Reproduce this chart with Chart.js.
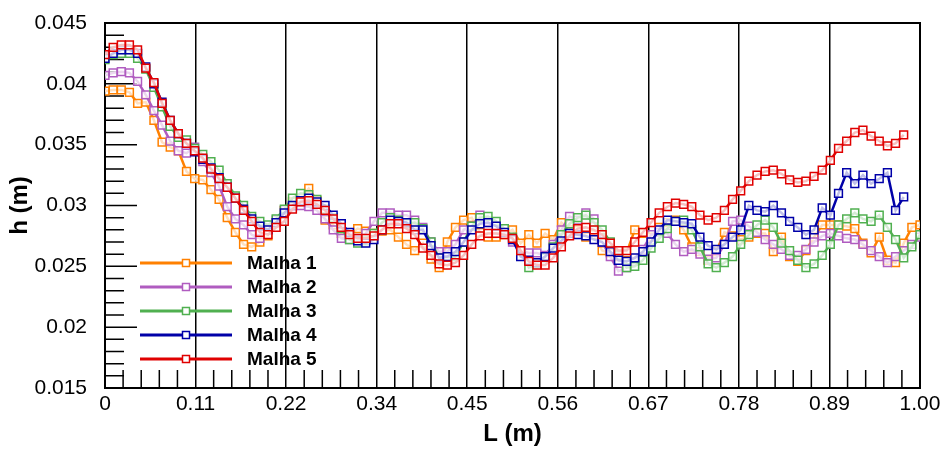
<!DOCTYPE html>
<html lang="en">
<head>
  <meta charset="UTF-8" />
  <title>h x L - Malhas</title>
  <script src="https://cdn.jsdelivr.net/npm/chart.js"></script>
  <style>
    body { margin: 0; background: #fff; }
    #wrap { width: 944px; height: 449px; }
  </style>
</head>
<body>
  <div id="wrap"><canvas id="chart" width="944" height="449"></canvas></div>

  <script>
    // posição ao longo do canal (m)
    const L = [0,0.01,0.02,0.03,0.04,0.05,0.06,0.07,0.08,0.09,
      0.10,0.11,0.12,0.13,0.14,0.15,0.16,0.17,0.18,0.19,
      0.20,0.21,0.22,0.23,0.24,0.25,0.26,0.27,0.28,0.29,
      0.30,0.31,0.32,0.33,0.34,0.35,0.36,0.37,0.38,0.39,
      0.40,0.41,0.42,0.43,0.44,0.45,0.46,0.47,0.48,0.49,
      0.50,0.51,0.52,0.53,0.54,0.55,0.56,0.57,0.58,0.59,
      0.60,0.61,0.62,0.63,0.64,0.65,0.66,0.67,0.68,0.69,
      0.70,0.71,0.72,0.73,0.74,0.75,0.76,0.77,0.78,0.79,
      0.80,0.81,0.82,0.83,0.84,0.85,0.86,0.87,0.88,0.89,
      0.90,0.91,0.92,0.93,0.94,0.95,0.96,0.97,0.98,0.99,
      1.00];

    const malha1 = [0.0394,0.0395,0.0395,0.0393,0.0384,0.0385,0.0370,0.0352,0.0348,0.0345,
      0.0328,0.0322,0.0321,0.0313,0.0305,0.0290,0.0278,0.0268,0.0266,0.0270,
      0.0275,0.0286,0.0296,0.0303,0.0306,0.0314,0.0304,0.0288,0.0284,0.0277,
      0.0276,0.0281,0.0279,0.0277,0.0279,0.0280,0.0274,0.0268,0.0263,0.0269,
      0.0256,0.0249,0.0270,0.0282,0.0288,0.0290,0.0278,0.0274,0.0274,0.0276,
      0.0280,0.0269,0.0276,0.0269,0.0277,0.0272,0.0286,0.0280,0.0286,0.0274,
      0.0276,0.0263,0.0261,0.0258,0.0261,0.0280,0.0277,0.0274,0.0282,0.0286,
      0.0288,0.0280,0.0266,0.0262,0.0255,0.0262,0.0278,0.0275,0.0272,0.0274,
      0.0277,0.0277,0.0262,0.0274,0.0258,0.0254,0.0263,0.0274,0.0284,0.0284,
      0.0284,0.0283,0.0281,0.0269,0.0261,0.0274,0.0255,0.0253,0.0269,0.0282,
      0.0284];

    const malha2 = [0.0407,0.0409,0.0410,0.0409,0.0402,0.0391,0.0378,0.0366,0.0353,0.0345,
      0.0343,0.0348,0.0336,0.0327,0.0316,0.0299,0.0289,0.0284,0.0276,0.0273,
      0.0280,0.0288,0.0296,0.0299,0.0300,0.0299,0.0296,0.0289,0.0280,0.0273,
      0.0272,0.0272,0.0277,0.0287,0.0294,0.0294,0.0292,0.0292,0.0288,0.0282,
      0.0270,0.0262,0.0262,0.0268,0.0280,0.0283,0.0292,0.0287,0.0283,0.0278,
      0.0270,0.0263,0.0261,0.0261,0.0259,0.0268,0.0280,0.0291,0.0288,0.0294,
      0.0289,0.0270,0.0258,0.0246,0.0249,0.0254,0.0264,0.0276,0.0278,0.0277,
      0.0268,0.0262,0.0264,0.0260,0.0256,0.0257,0.0268,0.0287,0.0288,0.0283,
      0.0278,0.0272,0.0268,0.0264,0.0259,0.0259,0.0264,0.0270,0.0275,0.0277,
      0.0275,0.0273,0.0272,0.0268,0.0263,0.0258,0.0253,0.0258,0.0263,0.0268,
      0.0274];

    const malha3 = [0.0420,0.0424,0.0425,0.0425,0.0421,0.0412,0.0397,0.0381,0.0365,0.0356,
      0.0354,0.0347,0.0342,0.0336,0.0329,0.0318,0.0308,0.0300,0.0291,0.0287,
      0.0284,0.0289,0.0297,0.0306,0.0310,0.0309,0.0305,0.0297,0.0290,0.0281,
      0.0272,0.0269,0.0271,0.0277,0.0286,0.0290,0.0288,0.0285,0.0286,0.0281,
      0.0270,0.0257,0.0254,0.0258,0.0270,0.0283,0.0290,0.0291,0.0287,0.0281,
      0.0274,0.0263,0.0249,0.0252,0.0257,0.0266,0.0276,0.0285,0.0290,0.0292,
      0.0286,0.0280,0.0270,0.0259,0.0249,0.0250,0.0255,0.0265,0.0273,0.0281,
      0.0287,0.0288,0.0280,0.0266,0.0252,0.0249,0.0253,0.0258,0.0268,0.0276,
      0.0284,0.0288,0.0282,0.0269,0.0263,0.0255,0.0249,0.0252,0.0259,0.0268,
      0.0284,0.0289,0.0294,0.0289,0.0287,0.0292,0.0282,0.0272,0.0257,0.0266,
      0.0276];

    const malha4 = [0.0421,0.0425,0.0428,0.0428,0.0425,0.0414,0.0400,0.0385,0.0370,0.0359,
      0.0351,0.0344,0.0338,0.0331,0.0323,0.0315,0.0306,0.0297,0.0289,0.0283,
      0.0280,0.0286,0.0294,0.0300,0.0304,0.0306,0.0303,0.0300,0.0292,0.0285,
      0.0278,0.0271,0.0269,0.0272,0.0280,0.0288,0.0287,0.0286,0.0280,0.0280,
      0.0267,0.0257,0.0258,0.0262,0.0270,0.0280,0.0285,0.0286,0.0283,0.0278,
      0.0272,0.0258,0.0255,0.0253,0.0258,0.0265,0.0271,0.0277,0.0276,0.0275,
      0.0272,0.0270,0.0262,0.0255,0.0254,0.0257,0.0262,0.0270,0.0280,0.0288,
      0.0287,0.0286,0.0285,0.0274,0.0267,0.0264,0.0268,0.0274,0.0280,0.0300,
      0.0296,0.0295,0.0300,0.0294,0.0287,0.0282,0.0276,0.0280,0.0298,0.0292,
      0.0310,0.0327,0.0318,0.0325,0.0318,0.0322,0.0327,0.0296,0.0307];

    const malha5 = [0.0424,0.0430,0.0432,0.0432,0.0428,0.0413,0.0401,0.0384,0.0370,0.0359,
      0.0351,0.0345,0.0339,0.0330,0.0322,0.0315,0.0306,0.0296,0.0287,0.0278,
      0.0276,0.0282,0.0287,0.0297,0.0303,0.0304,0.0301,0.0296,0.0289,0.0282,
      0.0276,0.0273,0.0273,0.0275,0.0280,0.0285,0.0285,0.0281,0.0276,0.0265,
      0.0259,0.0252,0.0251,0.0253,0.0259,0.0268,0.0275,0.0277,0.0277,0.0276,
      0.0273,0.0263,0.0254,0.0251,0.0251,0.0257,0.0266,0.0275,0.0281,0.0282,
      0.0280,0.0276,0.0269,0.0263,0.0263,0.0270,0.0278,0.0286,0.0294,0.0299,
      0.0302,0.0301,0.0299,0.0292,0.0288,0.0290,0.0296,0.0305,0.0312,0.0320,
      0.0325,0.0328,0.0329,0.0326,0.0321,0.0319,0.0320,0.0324,0.0329,0.0337,
      0.0347,0.0353,0.0360,0.0362,0.0357,0.0353,0.0349,0.0351,0.0358];

    const seriesNames = ['Malha 1', 'Malha 2', 'Malha 3', 'Malha 4', 'Malha 5'];
    const seriesData = [malha1, malha2, malha3, malha4, malha5];
    const seriesColors = ['#FF8000', '#B05CC0', '#50B050', '#0000A8', '#E00000'];

    const xTickVals = [0, 0.1111, 0.2222, 0.3333, 0.4444, 0.5556, 0.6667, 0.7778, 0.8889, 1];
    const xTickLabels = ['0', '0.11', '0.22', '0.34', '0.45', '0.56', '0.67', '0.78', '0.89', '1.00'];
    const yTickVals = [0.015, 0.02, 0.025, 0.03, 0.035, 0.04, 0.045];
    const yTickLabels = ['0.015', '0.02', '0.025', '0.03', '0.035', '0.04', '0.045'];

    const FONT = "'Liberation Sans', Arial, sans-serif";

    // moldura + marcas internas (maiores e menores)
    const frameTicks = {
      id: 'frameTicks',
      beforeDatasetsDraw(chart) {
        const { ctx, chartArea: a, scales } = chart;
        const xs = scales.x, ys = scales.y;
        ctx.save();
        ctx.strokeStyle = '#000';
        ctx.lineWidth = 1.5;
        ctx.beginPath();
        // eixo y: 4 menores entre as maiores
        for (let i = 0; i < yTickVals.length; i++) {
          const py = ys.getPixelForValue(yTickVals[i]);
          ctx.moveTo(a.left, py); ctx.lineTo(a.left + 32, py);
          if (i < yTickVals.length - 1) {
            const d = (yTickVals[i + 1] - yTickVals[i]) / 5;
            for (let j = 1; j < 5; j++) {
              const pm = ys.getPixelForValue(yTickVals[i] + d * j);
              ctx.moveTo(a.left, pm); ctx.lineTo(a.left + 19, pm);
            }
          }
        }
        // eixo x
        for (let i = 0; i < xTickVals.length - 1; i++) {
          const d = (xTickVals[i + 1] - xTickVals[i]) / 5;
          for (let j = 1; j < 5; j++) {
            const pm = xs.getPixelForValue(xTickVals[i] + d * j);
            ctx.moveTo(pm, a.bottom); ctx.lineTo(pm, a.bottom - 18);
          }
        }
        ctx.stroke();
        ctx.lineWidth = 2;
        ctx.strokeRect(a.left, a.top, a.right - a.left, a.bottom - a.top);
        ctx.restore();
      }
    };

    // legenda dentro da área do gráfico
    const insideLegend = {
      id: 'insideLegend',
      afterDraw(chart) {
        const { ctx, chartArea: a } = chart;
        ctx.save();
        ctx.font = 'bold 19px ' + FONT;
        ctx.textBaseline = 'middle';
        ctx.textAlign = 'left';
        chart.data.datasets.forEach((ds, i) => {
          const y = a.top + 240 + i * 24;
          const x0 = a.left + 35, x1 = a.left + 127, xm = (x0 + x1) / 2;
          ctx.strokeStyle = ds.borderColor;
          ctx.lineWidth = 3;
          ctx.beginPath();
          ctx.moveTo(x0, y); ctx.lineTo(x1, y);
          ctx.stroke();
          ctx.fillStyle = '#fff';
          ctx.fillRect(xm - 3.5, y - 3.5, 7, 7);
          ctx.lineWidth = 1.5;
          ctx.strokeRect(xm - 3.5, y - 3.5, 7, 7);
          ctx.fillStyle = '#000';
          ctx.fillText(ds.label, a.left + 142, y + 1);
        });
        ctx.restore();
      }
    };

    const datasets = seriesNames.map((name, i) => ({
      label: name,
      data: seriesData[i].map((h, k) => ({ x: L[k], y: h })),
      borderColor: seriesColors[i],
      backgroundColor: seriesColors[i],
      borderWidth: 2.5,
      pointStyle: 'rect',
      pointRadius: 5.5,
      pointBorderWidth: 1.5,
      pointBorderColor: seriesColors[i],
      pointBackgroundColor: 'rgba(255,255,255,0.75)',
      tension: 0,
      order: seriesNames.length - i
    }));

    new Chart(document.getElementById('chart').getContext('2d'), {
      type: 'line',
      data: { datasets },
      options: {
        responsive: false,
        animation: false,
        layout: { padding: { top: 23, right: 24, left: 0, bottom: 0 } },
        plugins: { legend: { display: false }, tooltip: { enabled: false } },
        scales: {
          x: {
            type: 'linear',
            min: 0,
            max: 1,
            afterBuildTicks: s => { s.ticks = xTickVals.map(v => ({ value: v })); },
            afterFit: s => { s.height = 61; s.paddingLeft = 0; s.paddingRight = 0; },
            grid: { color: '#000', lineWidth: 1.5, drawTicks: false },
            border: { display: false },
            ticks: {
              padding: 4,
              color: '#000',
              font: { family: FONT, size: 21 },
              maxRotation: 0,
              autoSkip: false,
              callback: (v, i) => xTickLabels[i]
            },
            title: {
              display: true,
              text: 'L (m)',
              color: '#000',
              font: { family: FONT, size: 24, weight: 'bold' },
              padding: { top: 0, bottom: 0 }
            }
          },
          y: {
            min: 0.015,
            max: 0.045,
            afterBuildTicks: s => { s.ticks = yTickVals.map(v => ({ value: v })); },
            afterFit: s => { s.width = 105; s.paddingTop = 0; s.paddingBottom = 0; },
            grid: { display: false, drawTicks: false },
            border: { display: false },
            ticks: {
              padding: 18,
              color: '#000',
              font: { family: FONT, size: 21 },
              autoSkip: false,
              callback: (v, i) => yTickLabels[i]
            },
            title: {
              display: true,
              text: 'h (m)',
              color: '#000',
              font: { family: FONT, size: 24, weight: 'bold' },
              padding: { top: 6, bottom: 0 }
            }
          }
        }
      },
      plugins: [frameTicks, insideLegend]
    });
  </script>
</body>
</html>
